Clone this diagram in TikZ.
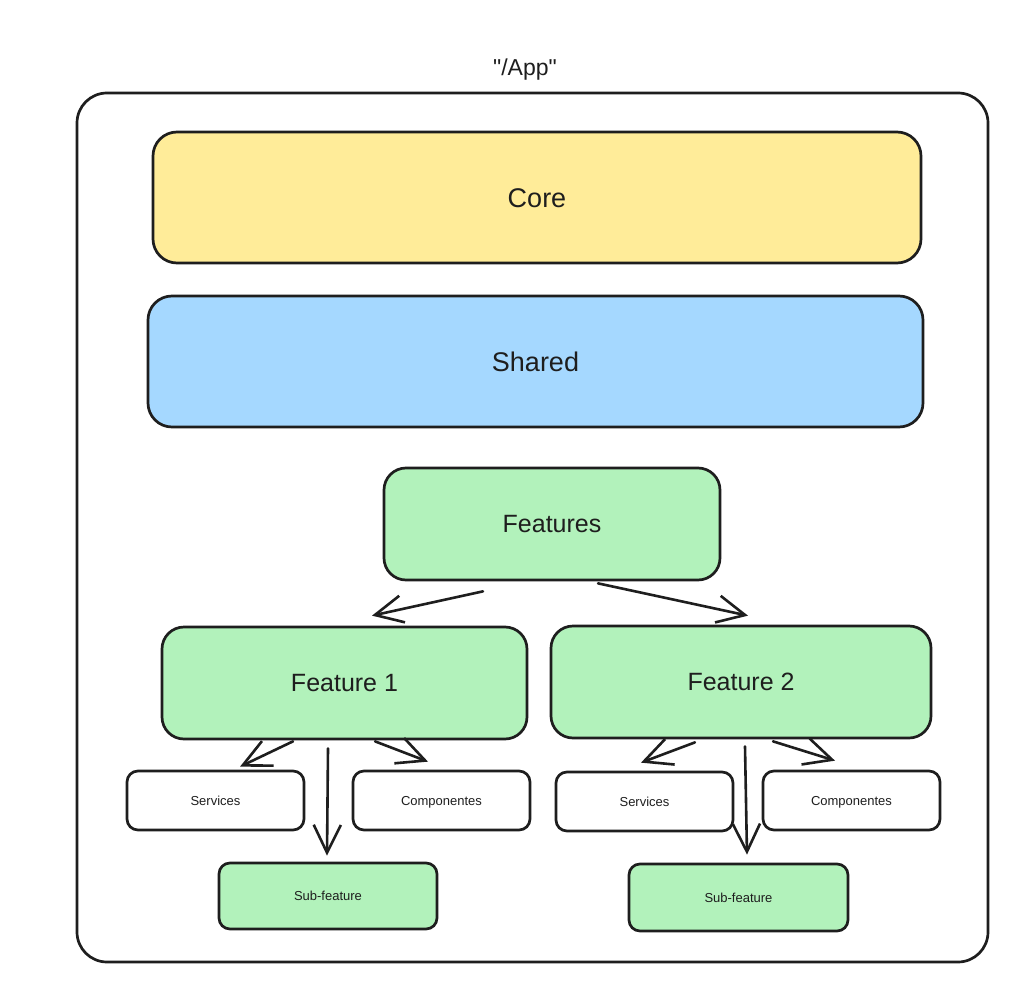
\documentclass[tikz,border=0pt]{standalone}
\usepackage{fontspec}
\setmainfont{Liberation Sans}[Ligatures=TeXOff]
\usetikzlibrary{arrows.meta}
\definecolor{ink}{HTML}{1E1E1E}
\definecolor{coreY}{HTML}{FFEC99}
\definecolor{sharedB}{HTML}{A5D8FF}
\definecolor{featG}{HTML}{B2F2BB}
\tikzset{
  box/.style={draw=ink, line width=2.7pt, align=center, text=ink, inner sep=0pt},
  bigbox/.style={box, rounded corners=24pt, font=\fontsize{27}{30}\selectfont, text height=19.3pt, text depth=0pt},
  midbox/.style={box, rounded corners=22pt, fill=featG, font=\fontsize{25}{30}\selectfont, text height=17.9pt, text depth=0pt},
  smallbox/.style={box, rounded corners=11pt, font=\fontsize{13}{16}\selectfont, text height=9.3pt, text depth=0pt},
  arr/.style={draw=ink, line width=2.6pt, line cap=round, -{Straight Barb[angle=52:31pt, line width=2.6pt]}},
}
\begin{document}
\begin{tikzpicture}[x=1pt, y=-1pt]
\fill[white] (0,0) rectangle (1031,990);
\useasboundingbox (0,0) rectangle (1031,990);

\node[box, rounded corners=30pt, minimum width=911pt, minimum height=869pt] (frame) at (532.5,527.5) {};
\node[text=ink, font=\fontsize{23}{26}\selectfont] (title) at (525,70) {"/App"};

\node[bigbox, fill=coreY, minimum width=768pt, minimum height=131pt] (core) at (537,197.5) {Core};
\node[bigbox, fill=sharedB, minimum width=775pt, minimum height=131pt] (shared) at (535.5,361.5) {Shared};

\node[midbox, minimum width=336pt, minimum height=112pt] (features) at (552,524) {Features};
\node[midbox, minimum width=365pt, minimum height=112pt] (f1) at (344.5,683) {Feature 1};
\node[midbox, minimum width=380pt, minimum height=112pt] (f2) at (741,682) {Feature 2};

\node[smallbox, fill=white, minimum width=177pt, minimum height=59pt] (s1) at (215.5,800.5) {Services};
\node[smallbox, fill=white, minimum width=177pt, minimum height=59pt] (c1) at (441.5,800.5) {Componentes};
\node[smallbox, fill=featG, minimum width=218pt, minimum height=66pt] (sf1) at (328,896) {Sub-feature};

\node[smallbox, fill=white, minimum width=177pt, minimum height=59pt] (s2) at (644.5,801.5) {Services};
\node[smallbox, fill=white, minimum width=177pt, minimum height=59pt] (c2) at (851.5,800.5) {Componentes};
\node[smallbox, fill=featG, minimum width=219pt, minimum height=67pt] (sf2) at (738.5,897.5) {Sub-feature};

\draw[arr] ([xshift=-69pt,yshift=-10pt]features.south) -- ([xshift=27.5pt,yshift=10pt]f1.north);
\draw[arr] ([xshift=46pt,yshift=-2pt]features.south) -- ([xshift=7pt,yshift=9pt]f2.north);

\draw[arr] ([xshift=-51.5pt,yshift=-1pt]f1.south) -- ([xshift=24.5pt,yshift=3pt]s1.north);
\draw[arr] ([xshift=-16.5pt,yshift=-8pt]f1.south) -- ([xshift=-1pt,yshift=6pt]sf1.north);
\draw[arr] ([xshift=30.5pt,yshift=-1pt]f1.south) -- ([xshift=-13.5pt,yshift=8pt]c1.north);

\draw[arr] ([xshift=-46pt,yshift=-3pt]f2.south) -- ([xshift=-3.5pt,yshift=8pt]s2.north);
\draw[arr] ([xshift=4pt,yshift=-7pt]f2.south) -- ([xshift=8.5pt,yshift=8pt]sf2.north);
\draw[arr] ([xshift=32pt,yshift=-2pt]f2.south) -- ([xshift=-16.5pt,yshift=9pt]c2.north);
\end{tikzpicture}
\end{document}
